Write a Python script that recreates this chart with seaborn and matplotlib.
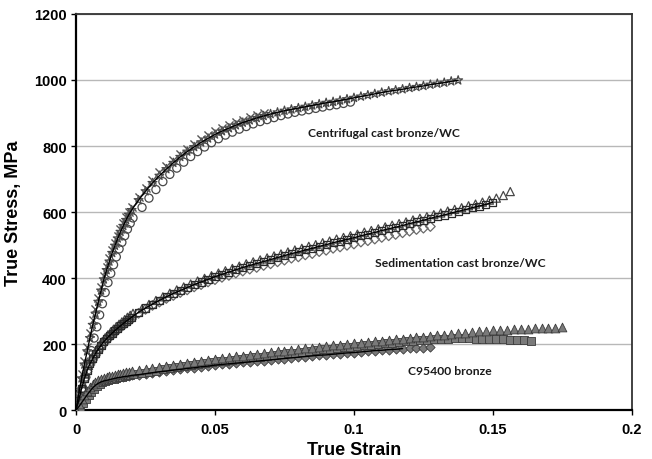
import matplotlib
matplotlib.use("Agg")
import matplotlib.pyplot as plt
import seaborn as sns
import numpy as np
import pandas as pd

# ---------------- data ----------------
strain = [0, .001, .002, .003, .004, .005, .006, .007, .008, .009, .010, .011, .012, .013, .014,
          .015, .016, .017, .018, .019, .020, .0225, .025, .0275, .030, .0325, .035, .0375, .040,
          .0425, .045, .0475, .050, .0525, .055, .0575, .060, .0625, .065, .0675, .070, .0725,
          .075, .0775, .080, .0825, .085, .0875, .090, .0925, .095, .0975, .100, .1025, .105,
          .1075, .110, .1125, .115, .1175, .120, .1225, .125, .1275, .130, .1325, .135, .1375,
          .140, .1425, .145, .1475, .150, .1525, .155, .1575, .160, .1625, .165, .1675, .170,
          .1725, .175]
# second specimen sampling (between the points above)
strain_b = [.0005, .0015, .0025, .0035, .0045, .0055, .0065, .0075, .0085, .0095, .0105, .0115,
            .0125, .0135, .0145, .0155, .0165, .0175, .0185, .0195, .0205, .02375, .02625,
            .02875, .03125, .03375, .03625, .03875, .04125, .04375, .04625, .04875, .05125,
            .05375, .05625, .05875, .06125, .06375, .06625, .06875, .07125, .07375, .07625,
            .07875, .08125, .08375, .08625, .08875, .09125, .09375, .09625, .09875, .10125,
            .10375, .10625, .10875, .11125, .11375, .11625, .11875, .12125, .12375, .12625,
            .12875, .13125, .13375, .13625, .13875, .14125, .14375, .14625, .14875, .15125,
            .15375, .15625, .15875, .16125, .16375, .16625, .16875, .17125, .17375, .17625]

# Centrifugal cast bronze/WC
cent_x = [0, 60, 108, 150, 192, 232, 272, 306, 340, 374, 406, 434, 460, 484, 506, 528, 548, 566,
          584, 600, 614, 646, 672, 697, 720, 740, 759, 776, 792, 806, 820, 832, 844, 854, 863, 872,
          880, 887, 894, 900]
cent_o = [0, 25, 60, 100, 140, 180, 218, 252, 288, 322, 356, 386, 414, 440, 464, 488, 508, 528,
          548, 566, 582, 614, 642, 668, 692, 714, 733, 751, 768, 783, 797, 810, 822, 833, 842, 851,
          859, 867, 874, 880, 886, 892, 897, 902, 906, 910, 914, 918, 922, 925, 929, 933]
cent_s = [0, 50, 96, 138, 178, 218, 258, 292, 328, 362, 396, 424, 450, 476, 498, 520, 540, 558,
          576, 592, 606, 636, 663, 688, 710, 730, 749, 767, 783, 797, 811, 823, 835, 845, 854, 863,
          871, 878, 885, 891, 897, 902, 907, 911, 915, 919, 923, 927, 931, 934, 938, 942, 946, 950,
          954, 958, 962, 966, 969, 972, 976, 979, 982, 986, 989, 992, 996, 999]

# Sedimentation cast bronze/WC
sed_tri = [0, 45, 80, 110, 135, 155, 170, 184, 197, 208, 219, 228, 237, 245, 253, 260, 267, 274,
           281, 287, 293, 307, 320, 332, 343, 354, 364, 373, 382, 391, 399, 407, 415, 422, 429,
           436, 443, 449, 455, 461, 467, 473, 479, 485, 490, 496, 501, 507, 512, 518, 523, 528,
           533, 539, 544, 549, 555, 560, 565, 570, 576, 581, 586, 592, 597, 603, 608, 613, 619,
           624, 630, 636, 642, 650, 662]
sed_sq = [0, 30, 65, 95, 120, 140, 156, 171, 184, 196, 207, 216, 225, 233, 241, 248, 255, 262,
          269, 275, 281, 296, 309, 321, 332, 343, 353, 362, 371, 380, 388, 396, 404, 411, 418, 425,
          432, 438, 444, 450, 456, 462, 468, 474, 479, 485, 490, 496, 501, 507, 512, 517, 522, 528,
          533, 538, 544, 549, 554, 559, 565, 570, 575, 581, 586, 591, 597, 602, 607, 613, 618, 623,
          630]
sed_dia = [0, 28, 62, 92, 117, 137, 152, 166, 179, 191, 202, 211, 220, 228, 236, 243, 250, 257,
           264, 270, 276, 293, 305, 317, 327, 338, 347, 356, 364, 373, 380, 388, 395, 402, 408,
           415, 421, 427, 432, 438, 443, 449, 454, 460, 464, 470, 474, 480, 484, 490, 494, 499,
           503, 509, 513, 518, 523, 528, 532, 537, 542, 547, 551, 556]

# C95400 bronze
c954_tri = [0, 18, 32, 46, 58, 70, 80, 86, 91, 95, 98, 100, 102, 104, 106, 108, 110, 112, 114,
            115, 117, 120, 124, 127, 131, 134, 137, 140, 143, 146, 149, 152, 155, 157, 160, 163,
            165, 168, 170, 173, 175, 178, 180, 182, 185, 187, 189, 192, 194, 196, 198, 200, 202,
            204, 206, 208, 210, 212, 214, 216, 218, 220, 222, 224, 226, 228, 230, 232, 234, 236,
            238, 240, 241, 242, 243, 244, 245, 246, 247, 248, 249, 250, 251]
c954_sq = [0, 8, 20, 32, 44, 55, 65, 74, 80, 85, 88, 91, 93, 95, 97, 99, 101, 103, 105, 107, 109,
           112, 116, 119, 123, 126, 129, 132, 135, 138, 141, 144, 147, 149, 152, 155, 157, 160,
           162, 165, 167, 170, 172, 174, 177, 179, 181, 184, 186, 188, 190, 192, 194, 196, 198,
           200, 202, 204, 206, 208, 210, 212, 213, 214, 215, 216, 217, 217, 217, 216, 216, 215,
           215, 214, 213, 212, 211, 210]
c954_dia = [0, 10, 22, 34, 46, 57, 67, 75, 81, 85, 88, 90, 92, 94, 96, 98, 99, 101, 102, 103, 105,
            107, 110, 113, 116, 118, 121, 123, 126, 128, 131, 133, 136, 138, 140, 142, 144, 146,
            148, 150, 152, 154, 156, 158, 160, 162, 164, 166, 167, 169, 171, 173, 174, 176, 178,
            180, 181, 183, 184, 186, 187, 188, 189, 190]

labels = ["Centrifugal cast bronze/WC", "Sedimentation cast bronze/WC", "C95400 bronze"]
label_pos = [(0.0835, 842), (0.1076, 448), (0.1195, 121)]

x_ticks = [0, 0.05, 0.1, 0.15, 0.2]
x_ticklabels = ["0", "0.05", "0.1", "0.15", "0.2"]
y_ticks = [0, 200, 400, 600, 800, 1000, 1200]
y_ticklabels = ["0", "200", "400", "600", "800", "1000", "1200"]

# ---------------- figure ----------------
sns.set_theme(style="white")
plt.rcParams["font.family"] = ["Liberation Sans", "DejaVu Sans"]

fig = plt.figure(figsize=(6.52, 4.6), dpi=100)
ax = fig.add_axes([0.1166, 0.1065, 0.8525, 0.8609])

def df_of(vals, grid=strain):
    return pd.DataFrame({"strain": grid[:len(vals)], "stress": vals})

S = 34
open_kw = dict(color="none", linewidth=0.9, zorder=3)

# centrifugal
sns.scatterplot(data=df_of(cent_s), x="strain", y="stress", marker="*", edgecolor="#484848",
                ax=ax, s=44, **open_kw)
sns.scatterplot(data=df_of(cent_o, strain_b), x="strain", y="stress", marker="o",
                edgecolor="#484848", ax=ax, s=S, **open_kw)
sns.scatterplot(data=df_of(cent_x), x="strain", y="stress", marker="x", color="#555555",
                linewidth=1.0, s=S, zorder=3, ax=ax)

# sedimentation
sns.scatterplot(data=df_of(sed_dia), x="strain", y="stress", marker="D", edgecolor="#6a6a6a",
                ax=ax, s=24, **open_kw)
sns.scatterplot(data=df_of(sed_tri, strain_b), x="strain", y="stress", marker="^",
                edgecolor="#484848", ax=ax, s=S, **open_kw)
sns.scatterplot(data=df_of(sed_sq), x="strain", y="stress", marker="s", edgecolor="#2a2a2a",
                ax=ax, s=26, **open_kw)

# C95400
sns.scatterplot(data=df_of(c954_dia), x="strain", y="stress", marker="D", color="#7a7a7a",
                edgecolor="#3a3a3a", linewidth=0.6, s=22, zorder=3, ax=ax)
sns.scatterplot(data=df_of(c954_sq, strain_b), x="strain", y="stress", marker="s",
                color="#7a7a7a", edgecolor="#3a3a3a", linewidth=0.6, s=26, zorder=3, ax=ax)
sns.scatterplot(data=df_of(c954_tri), x="strain", y="stress", marker="^", color="#7a7a7a",
                edgecolor="#3a3a3a", linewidth=0.6, s=40, zorder=3, ax=ax)

# fitted black lines
sns.lineplot(data=df_of(cent_s), x="strain", y="stress", color="black", linewidth=1.0,
             ax=ax, zorder=4, estimator=None, sort=False)
sns.lineplot(data=df_of(sed_sq), x="strain", y="stress", color="black", linewidth=1.0,
             ax=ax, zorder=4, estimator=None, sort=False)
sns.lineplot(data=df_of(c954_dia[:60]), x="strain", y="stress", color="black", linewidth=1.0,
             ax=ax, zorder=4, estimator=None, sort=False)

for txt, (tx, ty) in zip(labels, label_pos):
    ax.text(tx, ty, txt, ha="left", va="center", fontsize=8.7, fontweight="bold",
            color="#1a1a1a", family=["Lato", "DejaVu Sans"], zorder=5)

ax.set_xlim(0, 0.2)
ax.set_ylim(0, 1200)
ax.set_xticks(x_ticks)
ax.set_xticklabels(x_ticklabels)
ax.set_yticks(y_ticks)
ax.set_yticklabels(y_ticklabels)
for lab in ax.get_xticklabels() + ax.get_yticklabels():
    lab.set_fontweight("bold")
    lab.set_fontsize(10.5)
    lab.set_color("black")

ax.yaxis.grid(True, color="#b8b8b8", linewidth=1.0)
ax.xaxis.grid(False)
ax.set_axisbelow(True)

ax.tick_params(axis="both", which="both", direction="out", length=3.5, width=1.0,
               bottom=True, left=True, top=False, right=False, colors="black", pad=3)
ax.tick_params(axis="x", pad=5)

for side in ["left", "bottom"]:
    ax.spines[side].set_color("black")
    ax.spines[side].set_linewidth(1.6)
for side in ["top", "right"]:
    ax.spines[side].set_color("#333333")
    ax.spines[side].set_linewidth(1.3)

ax.set_xlabel("True Strain", fontsize=13, fontweight="bold", color="black")
ax.set_ylabel("True Stress, MPa", fontsize=13, fontweight="bold", color="black")
ax.xaxis.set_label_coords(0.5, -0.079)
ax.yaxis.set_label_coords(-0.098, 0.5)

fig.savefig("out.png", dpi=100)
